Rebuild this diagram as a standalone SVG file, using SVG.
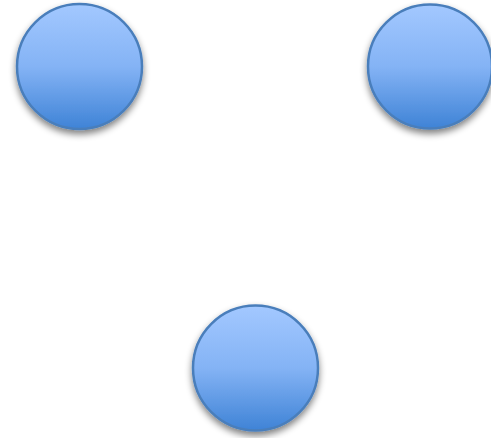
<svg xmlns="http://www.w3.org/2000/svg" width="491" height="438" viewBox="0 0 491 438">
<style>
.node circle{fill:url(#g);stroke:#4a7ebb;stroke-width:2.5;filter:url(#sh)}
</style>
<defs>
<linearGradient id="g" x1="0" y1="0" x2="0" y2="1">
<stop offset="0" stop-color="#a3c8ff"/>
<stop offset="0.5" stop-color="#84b3f5"/>
<stop offset="1" stop-color="#3f83d6"/>
</linearGradient>
<filter id="sh" x="-30%" y="-30%" width="160%" height="170%">
<feGaussianBlur in="SourceAlpha" stdDeviation="3.5"/>
<feOffset dx="0" dy="4" result="b"/>
<feComponentTransfer><feFuncA type="linear" slope="0.5"/></feComponentTransfer>
<feMerge><feMergeNode/><feMergeNode in="SourceGraphic"/></feMerge>
</filter>
</defs>
<rect width="491" height="438" fill="#ffffff"/>
<g id="connectors"></g>
<g id="node1" class="node"><circle cx="79.5" cy="66.5" r="62.5"/></g>
<g id="node2" class="node"><circle cx="430" cy="66.5" r="62"/></g>
<g id="node3" class="node"><circle cx="255.5" cy="368" r="62.5"/></g>
</svg>
